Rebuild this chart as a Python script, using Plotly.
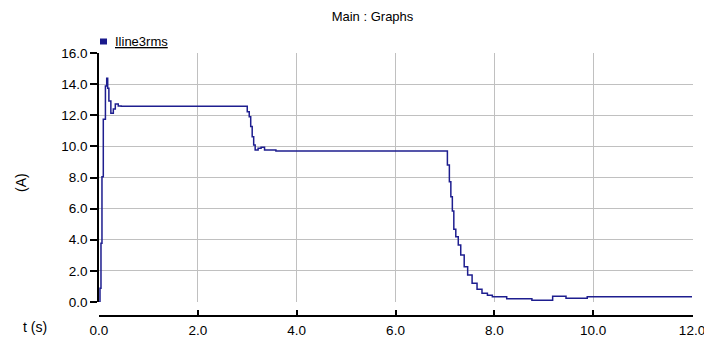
import plotly.graph_objects as go

# ---- data ----
time_s = [0.0, 0.02, 0.04, 0.06, 0.087, 0.13, 0.156, 0.176, 0.2, 0.24, 0.29, 0.33, 0.39, 0.45,
          3.0, 3.04, 3.07, 3.10, 3.13, 3.16, 3.22, 3.28, 3.35, 3.58,
          7.05, 7.09, 7.12, 7.15, 7.18, 7.22, 7.27, 7.32, 7.39, 7.46, 7.55, 7.65, 7.75, 7.86, 7.96,
          8.25, 8.76, 9.18, 9.45, 9.88, 12.0]
iline3rms = [0.0, 0.88, 3.77, 8.05, 11.74, 13.88, 14.38, 13.73, 12.92, 12.13, 12.4, 12.72, 12.6, 12.58,
             12.23, 11.9, 11.27, 10.62, 10.09, 9.77, 9.88, 9.94, 9.77, 9.7,
             8.8, 7.73, 6.77, 5.85, 4.67, 4.2, 3.66, 3.02, 2.27, 1.74, 1.2, 0.82, 0.56, 0.43, 0.34,
             0.21, 0.11, 0.37, 0.24, 0.33, 0.33]

x_ticks = [0, 2, 4, 6, 8, 10, 12]
x_tick_labels = ["0.0", "2.0", "4.0", "6.0", "8.0", "10.0", "12.0"]
y_ticks = [0, 2, 4, 6, 8, 10, 12, 14, 16]
y_tick_labels = ["0.0", "2.0", "4.0", "6.0", "8.0", "10.0", "12.0", "14.0", "16.0"]

series_name = "Iline3rms"
title_text = "Main : Graphs"
y_title = "(A)"
x_title = "t (s)"

line_color = "#1e1e8f"
grid_color = "#c0c0c0"
FONT = "Liberation Sans, Arial, sans-serif"

fig = go.Figure()
fig.add_trace(go.Scatter(
    x=time_s, y=iline3rms, mode="lines", name=series_name,
    line=dict(color=line_color, width=1.5, shape="hv"), showlegend=False,
    cliponaxis=False,
))

W, H = 704, 337
L, R, T, B = 99, 11, 53, 21
PW, PH = W - L - R, H - T - B


def px(xp):
    return (xp - L) / PW


def py(yp):
    return (H - B - yp) / PH


fig.update_layout(
    width=W, height=H,
    margin=dict(l=L, r=R, t=T, b=B, autoexpand=False),
    paper_bgcolor="white", plot_bgcolor="white",
    font=dict(family=FONT, size=13.5, color="black"),
    title=dict(text=title_text, xref="container", x=372.5 / W, xanchor="center",
               yref="container", y=1 - 16.5 / H, yanchor="middle",
               font=dict(family=FONT, size=13, color="black")),
    showlegend=False,
)

fig.update_xaxes(
    range=[0, 12.02], tickvals=x_ticks, ticktext=x_tick_labels,
    anchor="free", position=0, automargin=False, ticklabeloverflow="allow",
    ticklabelstandoff=2,
    showline=True, linecolor="black", linewidth=1.5,
    ticks="inside", ticklen=5, tickcolor="black", tickwidth=1.5,
    showgrid=True, gridcolor=grid_color, gridwidth=1, zeroline=False,
)
fig.update_yaxes(
    domain=[14 / PH, 1], range=[0, 16], tickvals=y_ticks, ticktext=y_tick_labels,
    automargin=False,
    showline=True, linecolor="black", linewidth=1.5,
    ticks="outside", ticklen=7, tickcolor="black", tickwidth=1.5,
    showgrid=True, gridcolor=grid_color, gridwidth=1, zeroline=False,
)

# legend drawn as a square + underlined label
fig.add_shape(type="rect", xref="paper", yref="paper",
              x0=px(100), x1=px(107), y0=py(44.5), y1=py(38.5),
              fillcolor="#1a1a8c", line=dict(width=0))
fig.add_annotation(text=series_name, xref="paper", yref="paper",
                   x=px(113), y=py(42), xanchor="left", yanchor="middle", showarrow=False,
                   font=dict(family=FONT, size=13, color="black", lineposition="under"))

fig.add_annotation(text=y_title, xref="paper", yref="paper", x=px(21), y=py(182),
                   textangle=-90, showarrow=False, xanchor="center", yanchor="middle",
                   font=dict(family=FONT, size=14, color="black"))
fig.add_annotation(text=x_title, xref="paper", yref="paper", x=px(35), y=py(327),
                   showarrow=False, xanchor="center", yanchor="middle",
                   font=dict(family=FONT, size=14, color="black"))

fig.write_html(
    "out.html",
    config={"displayModeBar": False},
    post_script="document.body.style.margin='0';document.body.style.overflow='hidden';",
)
